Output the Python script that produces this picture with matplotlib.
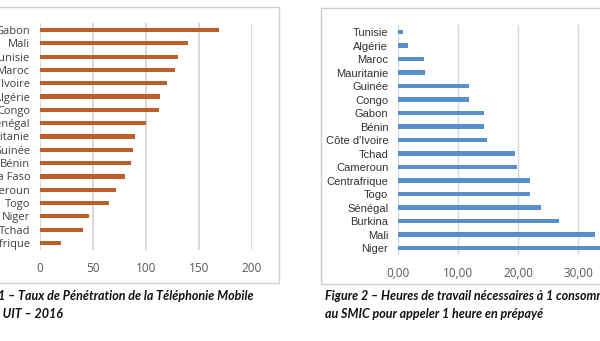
"""Two side-by-side Excel-style bar charts (mobile penetration / hours of work)."""

import matplotlib

matplotlib.use("Agg")
import matplotlib.pyplot as plt
from matplotlib.patches import Rectangle

# --- data -------------------------------------------------------------------
pays_1 = ["Gabon", "Mali", "Tunisie", "Maroc", "Côte d'Ivoire", "Algérie", "Congo",
          "Sénégal", "Mauritanie", "Guinée", "Bénin", "Burkina Faso", "Cameroun",
          "Togo", "Niger", "Tchad", "Centrafrique"]
taux_1 = [169, 139.5, 130, 127, 119.5, 113, 112, 100, 89.5, 87.5, 85.5, 80.5,
          71.5, 65, 46.5, 40.5, 20]
ticks_1 = [0, 50, 100, 150, 200]

pays_2 = ["Tunisie", "Algérie", "Maroc", "Mauritanie", "Guinée", "Congo", "Gabon",
          "Bénin", "Côte d'Ivoire", "Tchad", "Cameroun", "Centrafrique", "Togo",
          "Sénégal", "Burkina", "Mali", "Niger"]
heures_2 = [0.8, 1.6, 4.3, 4.5, 11.8, 11.9, 14.3, 14.3, 14.8, 19.5, 19.9, 22.0,
            22.0, 23.9, 26.8, 32.9, 34.2]
ticks_2 = [0, 10, 20, 30, 40]

caption_1 = ["Figure 1 – Taux de Pénétration de la Téléphonie Mobile",
             "Source : UIT – 2016"]
caption_2 = ["Figure 2 – Heures de travail nécessaires à 1 consommateur",
             "au SMIC pour appeler 1 heure en prépayé"]

W, H = 600, 341
GRID = "#D9D9D9"
TXT = "#404040"
TICK = "#595959"


def fx(px):
    return px / W


def fy(py):
    return 1 - py / H


fig = plt.figure(figsize=(6, 3.41), dpi=100)
fig.patch.set_facecolor("white")

# chart frames (the picture is a crop, so both frames run off the edges)
fig.add_artist(Rectangle((fx(-20), fy(283)), fx(299), 276 / H, transform=fig.transFigure,
                         fill=False, edgecolor="#D0D0D0", lw=1.0))
fig.add_artist(Rectangle((fx(321), fy(284)), fx(300), 276 / H, transform=fig.transFigure,
                         fill=False, edgecolor="#D0D0D0", lw=1.0))


def bar_chart(rect, names, values, ticks, color, fmt, gridlw, labelkw):
    ax = fig.add_axes(rect)
    pos = range(len(names))
    ax.barh(pos, values, height=0.32, color=color, zorder=3)
    ax.set_ylim(len(names) - 0.5, -0.5)
    ax.set_xlim(ticks[0], ticks[-1])
    ax.set_xticks(ticks)
    ax.set_xticklabels([fmt(t) for t in ticks], color=TICK, fontsize=8.5,
                       family=["Open Sans", "DejaVu Sans"])
    ax.set_yticks(list(pos))
    ax.set_yticklabels(names, **labelkw)
    ax.tick_params(length=0, axis="both")
    ax.tick_params(axis="x", pad=9)
    ax.tick_params(axis="y", pad=7)
    ax.grid(axis="x", color=GRID, lw=gridlw, zorder=0)
    for s in ax.spines.values():
        s.set_visible(False)
    ax.set_facecolor("none")
    return ax


# left chart: 0 -> x=40px, 200 -> x=252px
bar_chart([fx(40), fy(249.6), fx(212), 226.2 / H], pays_1, taux_1, ticks_1,
          "#BF5F28", lambda t: f"{t:d}", 1.4,
          dict(color=TXT, fontsize=8, family=["Open Sans", "DejaVu Sans"]))

# right chart: 0 -> x=398px, 10 units = 60px (runs past the right edge)
bar_chart([fx(398), fy(254.8), fx(240), 229.5 / H], pays_2, heures_2, ticks_2,
          "#5590CC", lambda t: f"{t:.2f}".replace(".", ","), 1.0,
          dict(color="#333333", fontsize=8, family=["Liberation Sans", "DejaVu Sans"]))

capkw = dict(fontsize=9, fontweight="bold", style="italic", color="#111111",
             family=["Lato", "DejaVu Sans"], transform=fig.transFigure, va="center")
fig.text(fx(254), fy(296), caption_1[0], ha="right", **capkw)
fig.text(fx(63), fy(314), caption_1[1], ha="right", **capkw)
fig.text(fx(325), fy(296), caption_2[0], ha="left", **capkw)
fig.text(fx(325), fy(314), caption_2[1], ha="left", **capkw)

fig.savefig("out.png", dpi=100)
